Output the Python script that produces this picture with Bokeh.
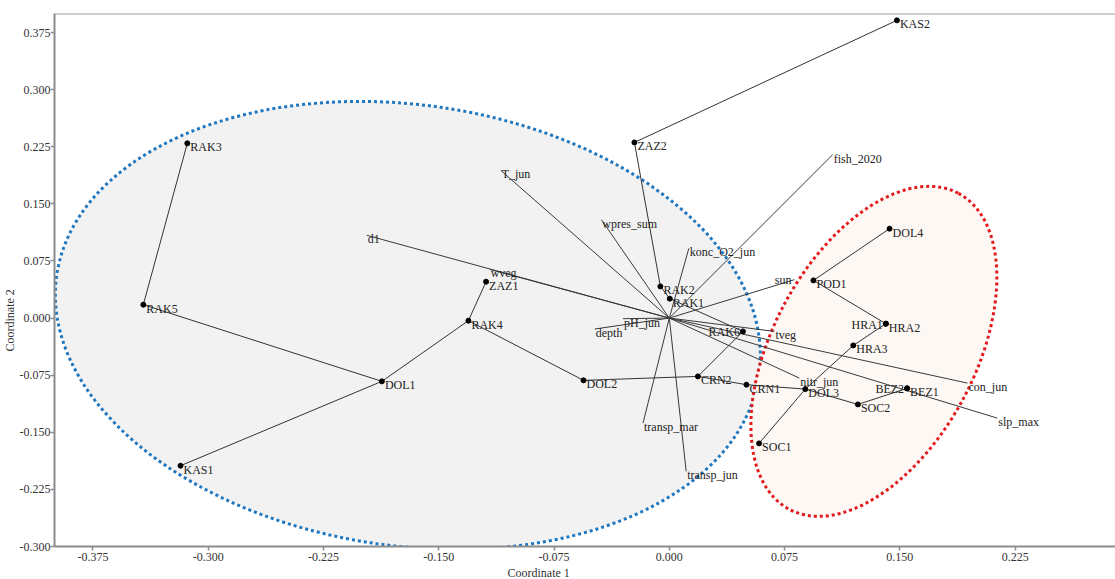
import numpy as np
from bokeh.plotting import figure
from bokeh.models import ColumnDataSource, FixedTicker, Span, NumeralTickFormatter, Range1d, Title
from bokeh.core.properties import value
from bokeh.embed import file_html
from bokeh.resources import INLINE

# ---- sites (ordination scores) ----
site_names = ["KAS2", "ZAZ2", "RAK3", "DOL4", "POD1", "RAK2", "RAK1", "ZAZ1",
              "RAK5", "RAK4", "HRA1", "HRA2", "RAK6", "HRA3", "DOL1", "DOL2",
              "CRN2", "CRN1", "DOL3", "BEZ1", "BEZ2", "SOC2", "SOC1", "KAS1"]
site_x = [0.1481, -0.0227, -0.3136, 0.1433, 0.0938, -0.0058, 0.0003, -0.1192,
          -0.3422, -0.1307, 0.1409, 0.1409, 0.0479, 0.1197, -0.1870, -0.0558,
          0.0186, 0.0502, 0.0885, 0.1547, 0.1547, 0.1227, 0.0584, -0.3180]
site_y = [0.3910, 0.2307, 0.2295, 0.1174, 0.0495, 0.0416, 0.0255, 0.0478,
          0.0176, -0.0034, -0.0074, -0.0074, -0.0175, -0.0359, -0.0831, -0.0818,
          -0.0766, -0.0875, -0.0933, -0.0923, -0.0923, -0.1134, -0.1646, -0.1939]
left_labelled = ["HRA1", "BEZ2", "RAK6"]

# ---- minimum spanning tree ----
mst_from = ["KAS2", "ZAZ2", "RAK2", "RAK1", "RAK6", "CRN2", "CRN2", "CRN1",
            "DOL3", "SOC2", "BEZ2", "SOC1", "DOL3", "HRA3", "HRA1", "HRA2",
            "POD1", "RAK3", "RAK5", "DOL1", "DOL1", "RAK4", "RAK4"]
mst_to = ["ZAZ2", "RAK2", "RAK1", "RAK6", "CRN2", "DOL2", "CRN1", "DOL3",
          "SOC2", "BEZ2", "BEZ1", "DOL3", "HRA3", "HRA1", "HRA2", "POD1",
          "DOL4", "RAK5", "DOL1", "KAS1", "RAK4", "ZAZ1", "DOL2"]

# ---- environmental vectors (biplot) ----
var_names = ["fish_2020", "T_jun", "wpres_sum", "konc_O2_jun", "d1", "wveg",
             "sun", "pH_jun", "depth", "tveg", "con_jun", "slp_max",
             "nitr_jun", "transp_mar", "transp_jun"]
var_x = [0.1063, -0.1097, -0.0442, 0.0127, -0.1968, -0.1169,
         0.0814, -0.0301, -0.0485, 0.0684, 0.1940, 0.2134,
         0.0846, -0.0171, 0.0110]
var_y = [0.2146, 0.1940, 0.1293, 0.0916, 0.1087, 0.0640,
         0.0504, -0.0008, -0.0144, -0.0175, -0.0854, -0.1314,
         -0.0788, -0.1379, -0.2014]
right_aligned_vars = ["sun"]

x_ticks = [-0.375, -0.300, -0.225, -0.150, -0.075, 0.000, 0.075, 0.150, 0.225]
y_ticks = [-0.300, -0.225, -0.150, -0.075, 0.000, 0.075, 0.150, 0.225, 0.300, 0.375]

# group ellipses (centre in data units, semi-axes in screen px, angle deg)
blue_group = dict(cx=-0.1701, cy=-0.0096, a=354.7, b=220.6, ang=-8.1)
red_group = dict(cx=0.1331, cy=-0.0437, a=179.2, b=101.2, ang=61.8)

FONT = "Liberation Serif"

p = figure(width=1115, height=579,
           x_range=Range1d(-0.4, 0.2903), y_range=Range1d(-0.3, 0.4),
           output_backend="svg", toolbar_location=None,
           min_border_left=0, min_border_right=0,
           min_border_top=13, min_border_bottom=0)
p.outline_line_color = None
p.xgrid.visible = False
p.ygrid.visible = False
p.background_fill_color = "white"

for ax, ticks in ((p.xaxis, x_ticks), (p.yaxis, y_ticks)):
    ax.ticker = FixedTicker(ticks=ticks)
    ax.formatter = NumeralTickFormatter(format="0.000")
    ax.axis_line_color = "#8c8c8c"
    ax.axis_line_width = 2
    ax.major_tick_line_color = "#8c8c8c"
    ax.major_tick_line_width = 1.5
    ax.major_tick_out = 4
    ax.major_tick_in = 0
    ax.minor_tick_line_color = None
    ax.major_label_text_font = FONT
    ax.major_label_text_font_size = "12px"
    ax.major_label_text_color = "#333333"
    ax.major_label_standoff = 2
p.yaxis.major_label_standoff = 0

# axis titles as side titles (free horizontal / vertical placement)
p.add_layout(Title(text="Coordinate 1", align="left", offset=453, standoff=0,
                   text_font=FONT, text_font_size="12px", text_font_style="normal",
                   text_color="#333333"), "below")
p.add_layout(Title(text="Coordinate 2", align="left", offset=195, standoff=0,
                   text_font=FONT, text_font_size="12px", text_font_style="normal",
                   text_color="#333333", text_line_height=0.6), "left")

p.add_layout(Span(location=0.4, dimension="width", line_color="#a0a0a0", line_width=2))

# ellipses
for g, fill, line in ((blue_group, "#f2f2f2", "#1f77c0"), (red_group, "#fdf8f4", "#e3191c")):
    p.ellipse(x=[g["cx"]], y=[g["cy"]], width=[2 * g["a"]], height=[2 * g["b"]],
              width_units="screen", height_units="screen",
              angle=np.deg2rad(g["ang"]),
              fill_color=fill, line_color=line, line_width=3, line_dash="3 3")

# vectors
vsrc = ColumnDataSource(dict(x0=[0.0] * len(var_x), y0=[0.0] * len(var_y), x1=var_x, y1=var_y))
p.segment(x0="x0", y0="y0", x1="x1", y1="y1", source=vsrc, line_color="#3a3a3a", line_width=1)

# MST
pos = {n: (x, y) for n, x, y in zip(site_names, site_x, site_y)}
msrc = ColumnDataSource(dict(
    x0=[pos[a][0] for a in mst_from], y0=[pos[a][1] for a in mst_from],
    x1=[pos[b][0] for b in mst_to], y1=[pos[b][1] for b in mst_to]))
p.segment(x0="x0", y0="y0", x1="x1", y1="y1", source=msrc, line_color="#333333", line_width=1)

# points
p.scatter(site_x, site_y, size=5, color="black")

# labels
def add_text(names, xs, ys, align, xo, yo):
    if not names:
        return
    src = ColumnDataSource(dict(x=xs, y=ys, t=names))
    p.text(x="x", y="y", text="t", source=src, text_font=value(FONT),
           text_font_size="12px", text_color="#222222", text_baseline="middle",
           text_align=align, x_offset=xo, y_offset=yo)

sl = [(n, x, y) for n, x, y in zip(site_names, site_x, site_y) if n not in left_labelled]
sr = [(n, x, y) for n, x, y in zip(site_names, site_x, site_y) if n in left_labelled]
add_text([a[0] for a in sl], [a[1] for a in sl], [a[2] for a in sl], "left", 3, 4)
add_text([a[0] for a in sr], [a[1] for a in sr], [a[2] for a in sr], "right", -3, 1)

vl = [(n, x, y) for n, x, y in zip(var_names, var_x, var_y) if n not in right_aligned_vars]
vr = [(n, x, y) for n, x, y in zip(var_names, var_x, var_y) if n in right_aligned_vars]
add_text([a[0] for a in vl], [a[1] for a in vl], [a[2] for a in vl], "left", 1, 4)
add_text([a[0] for a in vr], [a[1] for a in vr], [a[2] for a in vr], "right", -3, 0)

open("out.html", "w").write(file_html(p, INLINE))
